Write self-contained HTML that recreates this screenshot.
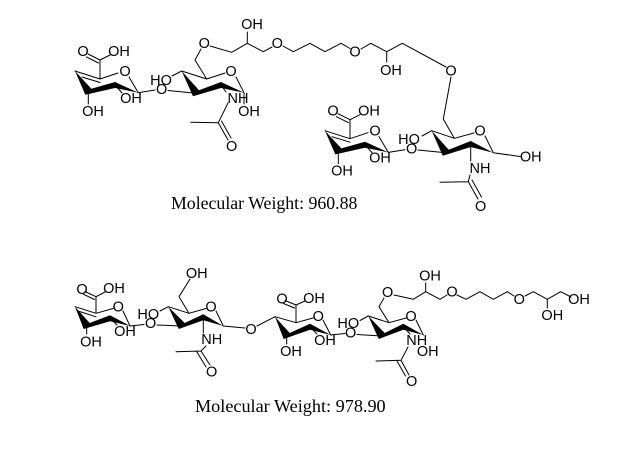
<!DOCTYPE html>
<html>
<head>
<meta charset="utf-8">
<style>
html,body{margin:0;padding:0;background:#fff;width:629px;height:457px;overflow:hidden}
svg{display:block}
.l{fill:none;stroke:#000;stroke-width:1;stroke-linecap:round;stroke-linejoin:round}
.a{font-family:"Liberation Sans",sans-serif;font-size:14.5px;text-anchor:middle;fill:#000}
.c{font-family:"Liberation Serif",serif;font-size:17.8px;fill:#000}
</style>
</head>
<body>
<svg width="629" height="457" viewBox="0 0 629 457" xmlns="http://www.w3.org/2000/svg">
<rect width="629" height="457" fill="#fff"/>

<!-- Top molecule: sugar A -->
<polygon points="75,71 85.3,94.7 115,88 138.3,92.7 115,82 91.3,88.7"/>
<path class="l" d="M75,71L100,79M82,77L100,82.5M100,79L118,73M129,77L138.3,92.7M138.3,92.7L155,90M115,85L122,93M88.3,91.7L88.3,104M100,79L100,60M100,60L88,54M98.5,63L86.5,57M100,60L110,55"/>
<text class="a" x="83" y="56">O</text><text class="a" x="119" y="56">OH</text><text class="a" x="125" y="76">O</text>
<text class="a" x="93" y="116">OH</text><text class="a" x="131" y="103">OH</text><text class="a" x="161.700" y="94">O</text>

<!-- Top molecule: sugar B -->
<polygon points="181.7,71 193,96.3 221,88 244,92.7 221,82 199,90.3"/>
<path class="l" d="M168,90.500L196,93.300M181.7,71L206.7,79M206.7,79L225,73M236,77L244,92.700M181.7,71L172,76M206.7,79L195,60M195,60L201,49M210,46L231.700,52.300L247.300,43.300M247.300,43.300L247.300,32M247.300,43.300L263.300,51.700L272,47M283,46L293.300,51.700L310,43.300L325,51.700L341,43.300L350,48.500M361,49L370.700,43.300L386.700,51.700L402.300,43.300L446,67M386.700,51.700L386.700,62M244,92.700L244,104M221,85L226,92M228,103L218.300,122.700L190.700,122.300M218.300,122.700L228,140M221.500,121L231,138"/>
<text class="a" x="161" y="85">HO</text><text class="a" x="231" y="76">O</text><text class="a" x="204.300" y="48">O</text>
<text class="a" x="252" y="29">OH</text><text class="a" x="238" y="103">NH</text><text class="a" x="249" y="116">OH</text><text class="a" x="231.700" y="151">O</text>
<text class="a" x="277.300" y="48">O</text><text class="a" x="355" y="56.500">O</text><text class="a" x="391" y="75">OH</text><text class="a" x="451" y="75.500">O</text>

<!-- Top molecule: sugar A2 -->
<g transform="translate(250,59.700)">
<polygon points="75,71 85.3,94.7 115,88 138.3,92.7 115,82 91.3,88.7"/>
<path class="l" d="M75,71L100,79M82,77L100,82.5M100,79L118,73M129,77L138.3,92.7M138.3,92.7L155,90M115,85L122,93M88.3,91.7L88.3,104M100,79L100,60M100,60L88,54M98.5,63L86.5,57M100,60L110,55"/>
<text class="a" x="83" y="56">O</text><text class="a" x="119" y="56">OH</text><text class="a" x="125" y="76">O</text>
<text class="a" x="92" y="116">OH</text><text class="a" x="130" y="103">OH</text><text class="a" x="161.700" y="94">O</text>
</g>

<!-- Top molecule: sugar B2 -->
<polygon points="431.7,130.7 442.7,155.7 470.7,147 493.3,152.7 470.7,141 448.7,149.7"/>
<path class="l" d="M418,150L445.700,152.700M431.700,130.700L454.300,138.300M454.300,138.300L474,133M485,136L493.300,152.700M493.300,152.700L520,156.500M431.700,130.700L422,136M443.300,119L451,77M443.300,119L454.300,138.300M470.700,144L470.700,161M470,175L468.300,181.700L440,182.300M468.300,181.700L478,199M472,180L481.500,197"/>
<text class="a" x="409" y="144">HO</text><text class="a" x="480" y="135.500">O</text><text class="a" x="530.700" y="161.500">OH</text><text class="a" x="480" y="173">NH</text><text class="a" x="480.700" y="211">O</text>

<text class="c" x="171" y="209">Molecular Weight: 960.88</text>

<!-- Bottom molecule: sugar A -->
<polygon points="75,306.7 83.7,329 110,321.3 130,326 110,315.3 89.7,323"/>
<path class="l" d="M75,306.700L96,313.300M78,311L96,316.800M96,313.300L113,308.500M123,311L130,326M130,326L144,324.500M110,318.300L117,325M86.700,326L86.700,334M96,313.300L96,296.700M96,296.700L85,291.500M94.500,299.500L83.500,294.300M96,296.700L105,292"/>
<text class="a" x="82" y="294">O</text><text class="a" x="114" y="293">OH</text><text class="a" x="118.300" y="311.500">O</text>
<text class="a" x="91" y="346.500">OH</text><text class="a" x="125" y="336">OH</text><text class="a" x="150.700" y="328">O</text>

<!-- Bottom molecule: sugar B -->
<polygon points="168.3,306.7 178.7,329 203.3,320.3 223.3,326 203.3,314.3 184.7,323"/>
<path class="l" d="M157,325L181.700,326M168.300,306.700L189,313.300M189,313.300L206,308.500M216,311L223.300,326M223.300,326L245,328M168.300,306.700L160,311M189,313.300L179,296.700L190,279M203.300,317.300L203.300,333M206,346L201,351L176,351.700M201,351L210,365M197,352L206,367M257,326L275,316.700"/>
<text class="a" x="148.300" y="319">HO</text><text class="a" x="211" y="311.500">O</text><text class="a" x="196.700" y="278">OH</text><text class="a" x="211.700" y="344">NH</text><text class="a" x="211.700" y="376.500">O</text><text class="a" x="251" y="334">O</text>

<!-- Bottom molecule: sugar A2 -->
<polygon points="275,316.7 283.7,339 310,329.7 330.7,335 310,323.7 289.7,333"/>
<path class="l" d="M275,316.700L296,322.700M296,322.700L313,318M323,320L330.700,335M330.700,335L345,333.500M310,326.700L317,334M286.700,336L286.700,344M296,322.700L296,305M296,305L285,300.500M294.500,308L283.500,303.500M296,305L305,301"/>
<text class="a" x="282" y="303.500">O</text><text class="a" x="314" y="303">OH</text><text class="a" x="318.300" y="321">O</text>
<text class="a" x="291" y="356">OH</text><text class="a" x="325" y="345">OH</text><text class="a" x="350.700" y="337.500">O</text>

<!-- Bottom molecule: sugar B2 and chain -->
<polygon points="368.3,316 378.7,339 403.3,329.7 423.3,335 403.3,323.7 384.7,333"/>
<path class="l" d="M357,334.500L381.700,336M368.300,316L389,322.700M389,322.700L406,318M416,320L423.300,335M368.300,316L360,320.500M389,322.700L379,306.700L384,298M394,295L413.300,299.300L425.700,291.700L440,299.300L447,295M425.700,291.700L425.700,283M457,295L466,299.300L480,291.700L493.300,299.300L507.300,291.700L514,296M525,296L533.300,291.700L547.300,299.300L560.700,291.700L571,297M547.300,299.300L547.300,308M403.300,326.700L410,334M408,347L401,360.300L376,361M401,360.300L409,375M397,361L405.500,376"/>
<text class="a" x="348.300" y="328">HO</text><text class="a" x="411" y="321">O</text><text class="a" x="416.700" y="345">NH</text><text class="a" x="427.700" y="356">OH</text><text class="a" x="411.700" y="386">O</text>
<text class="a" x="387.700" y="297">O</text><text class="a" x="430" y="280.500">OH</text><text class="a" x="452" y="296.500">O</text><text class="a" x="519.300" y="304">O</text><text class="a" x="552.300" y="320">OH</text><text class="a" x="579" y="304">OH</text>

<text class="c" x="195" y="412" style="font-size:18.200px">Molecular Weight: 978.90</text>
</svg>
</body>
</html>
